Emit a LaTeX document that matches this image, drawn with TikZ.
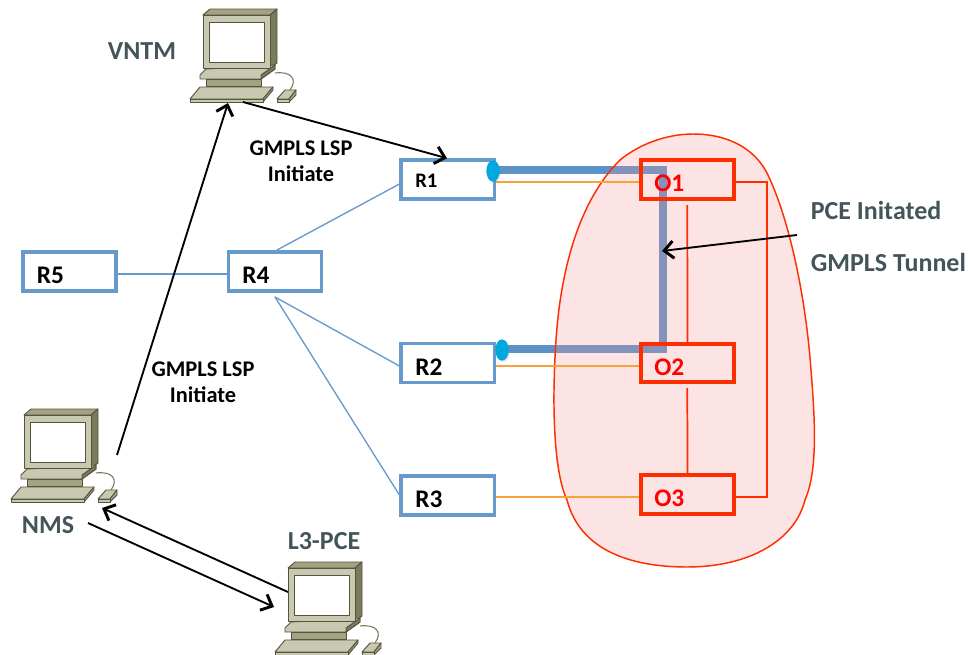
\documentclass[tikz,border=0pt]{standalone}
\usepackage{fontspec}
\setmainfont{Carlito}
\usetikzlibrary{arrows.meta,positioning,shapes.geometric,shadows}
\definecolor{rblue}{HTML}{6699CC}
\definecolor{tunnel}{HTML}{5B92C8}
\definecolor{ored}{HTML}{FF2E00}
\definecolor{cloudpink}{RGB}{245,150,154}
\definecolor{slate}{HTML}{44555A}
\definecolor{orangeline}{HTML}{F9A13A}
\definecolor{tunnelend}{HTML}{00A8E0}
\definecolor{pclight}{HTML}{C9C9B1}
\definecolor{pcmid}{HTML}{A3A384}
\definecolor{pcdark}{HTML}{7A7A5C}
\definecolor{pcline}{HTML}{55553F}
\tikzset{
routerbox/.style={
  draw=rblue,
  line width=2.6pt,
  fill=white,
  minimum width=69.8pt,
  minimum height=29.3pt,
  inner sep=0pt
  },
opticalbox/.style={
  routerbox,
  draw=ored,
  fill=none,
  line width=3pt,
  minimum width=69.3pt,
  minimum height=28.8pt
  },
boxlabel/.style={
  font=\bfseries\fontsize{19}{19}\selectfont,
  anchor=west,
  inner sep=0pt
  },
toplabel/.style={
  font=\bfseries\fontsize{19.5}{20}\selectfont,
  text=slate,
  inner sep=0pt
  },
msglabel/.style={
  font=\bfseries\fontsize{16.8}{19.5}\selectfont,
  align=center,
  inner sep=0pt
  },
link/.style={draw=rblue, line width=1pt},
orangelink/.style={draw=orangeline, line width=1pt},
redlink/.style={draw=ored, line width=1.3pt},
msg/.style={-{Straight Barb[length=7pt,width=13pt,line width=2.2pt]}, draw=black, line width=1.4pt},
tunnelline/.style={draw=tunnel, line width=6pt},
tunneldot/.style={
  ellipse,
  fill=tunnelend,
  inner sep=0pt,
  minimum width=10pt,
  minimum height=16pt,
  drop shadow={shadow xshift=1pt,shadow yshift=-1pt,opacity=.2}
  },
pcpart/.style={draw=pcline, line width=.7pt, line join=round},
pics/computer/.style={
  code={
  \draw[pcpart,fill=pcmid] (0,0) -- (7,-6) -- (74,-6) -- (67,0) -- cycle;
  \draw[pcpart,fill=pcdark] (67,0) -- (74,-6) -- (74,48) -- (67,53) -- cycle;
  \draw[pcpart,fill=pclight] (-3,60) -- (3,54) -- (72,50) -- (72,54) -- (58,64) -- (-3,64) -- cycle;
  \draw[pcpart,fill=pcdark] (58,60) -- (72,50) -- (72,54) -- (58,64) -- cycle;
  \draw[pcpart,fill=pcmid] (3,64) rectangle (58,71);
  \draw[pcpart,fill=pclight] (0,0) rectangle (67,53);
  \draw[pcpart,fill=white] (6,7) rectangle (61,47);
  \draw[pcpart,fill=pclight] (-13,84) -- (-3,72) -- (70,72) -- (60,84) -- cycle;
  \draw[pcpart,fill=pcmid] (60,84) -- (70,72) -- (70,75) -- (60,87) -- cycle;
  \draw[pcpart,fill=pclight] (-13,84) rectangle (60,87);
  \draw[pcpart,fill=pclight] (74,84) -- (82,75) -- (93,75) -- (86,84) -- cycle;
  \draw[pcpart,fill=pcmid] (86,84) -- (93,75) -- (93,80) -- (86,87) -- cycle;
  \draw[pcpart,fill=pclight] (74,84) rectangle (86,87);
  \draw[draw=pcdark,line width=.8pt] (72,58) .. controls (88,56) and (95,64) .. (87,75);
  }
  }
}
\begin{document}
\begin{tikzpicture}[x=0.75pt,y=-0.75pt]
\useasboundingbox (0,0) rectangle (968,654);
% tunnel goes under the cloud
\coordinate (t1) at (492,170);
\coordinate (t2) at (500,349);
\coordinate (tc1) at (663,170);
\coordinate (tc2) at (663,349);
\draw[tunnelline] (t1) -- (tc1) -- (tc2) -- (t2);
% optical cloud
\draw[draw=ored,fill=cloudpink,fill opacity=.266,line width=1.1pt] (693,134)
  .. controls (730,134) and (755,150) .. (767,173)
  .. controls (790,220) and (806,300) .. (811,370)
  .. controls (815,420) and (818,470) .. (805,500)
  .. controls (795,540) and (750,567) .. (687,567)
  .. controls (630,567) and (580,550) .. (567,500)
  .. controls (553,470) and (552,400) .. (556,340)
  .. controls (560,280) and (575,205) .. (620,160)
  .. controls (642,142) and (670,134) .. (693,134) -- cycle;
% routers
\node[routerbox] (r1) at (447.7,179.5) {};
\node[routerbox] (r2) at (447.7,363) {};
\node[routerbox] (r3) at (447.7,495.5) {};
\node[routerbox] (r4) at (275,271.3) {};
\node[routerbox] (r5) at (69.5,271.3) {};
\node[boxlabel,font=\bfseries\fontsize{15.5}{16}\selectfont] at (415,181) {R1};
\node[boxlabel] at (415,367) {R2};
\node[boxlabel] at (415,499) {R3};
\node[boxlabel] at (242,275) {R4};
\node[boxlabel] at (36.5,275) {R5};
% optical boxes
\coordinate (o1) at (687.5,179.5);
\coordinate (o2) at (687.5,363);
\coordinate (o3) at (687.5,494.5);
\coordinate (r4top) at (277,250);
\coordinate (r4low) at (275,297);
\coordinate (o1low) at (687.3,205);
\coordinate (o2low) at (687.3,388);
\draw[link] (r5.east |- 0,274) -- (r4.west |- 0,274);
\draw[link] (r4top) -- (r1.west |- 0,184);
\draw[link] (r4low) -- (r2.west |- 0,366);
\draw[link] (r4low) -- (r3.west |- 0,495);
\node[opticalbox] (box1) at (o1) {};
\node[opticalbox] (box2) at (o2) {};
\node[opticalbox] (box3) at (o3) {};
\draw[orangelink] (r1.east |- 0,182) -- (box1.west |- 0,182);
\draw[orangelink] (r2.east |- 0,366) -- (box2.west |- 0,366);
\draw[orangelink] (r3.east |- 0,497) -- (box3.west |- 0,497);
\draw[redlink] (box1.east |- 0,182.3) -| (767.3,496.7) -- (box3.east |- 0,496.7);
\draw[redlink] (o1low) -- (box2.north);
\draw[redlink] (o2low) -- (box3.north);
\node[boxlabel,text=red] at (654,183) {O1};
\node[boxlabel,text=red] at (654,367) {O2};
\node[boxlabel,text=red] at (654,498) {O3};
\node[tunneldot] (e1) at (493,171) {};
\node[tunneldot] (e2) at (502,350) {};
% computers
\pic at (203,15) {computer};
\pic at (24,415) {computer};
\pic at (288,568) {computer};
\node[toplabel] (vntm) at (142,51) {VNTM};
\node[toplabel] (nms) at (48,525) {NMS};
\node[toplabel] (l3pce) at (324,541) {L3-PCE};
\coordinate (nmsout) at (117,455);
\coordinate (vntmin) at (228,103);
\coordinate (vntmout) at (243,102);
\coordinate (nmsa) at (88,523);
\coordinate (l3in) at (274,607);
\coordinate (l3out) at (288,592);
\coordinate (nmsin) at (102,508);
\coordinate (tunnelnote) at (797,235);
\coordinate (tunnelhit) at (662,251);
\draw[msg] (nmsout) -- (vntmin);
\draw[msg] (vntmout) -- (r1.north -| 447,0);
\draw[msg] (nmsa) -- (l3in);
\draw[msg] (l3out) -- (nmsin);
\draw[msg] (tunnelnote) -- (tunnelhit);
\node[msglabel] (lsp1) at (301,161) {GMPLS LSP\\Initiate};
\node[msglabel] (lsp2) at (203,382) {GMPLS LSP\\Initiate};
\node[toplabel,anchor=west] (pce1) at (810.5,210) {PCE Initated};
\node[toplabel,anchor=west] (pce2) at (810.5,262) {GMPLS Tunnel};
\end{tikzpicture}
\end{document}
